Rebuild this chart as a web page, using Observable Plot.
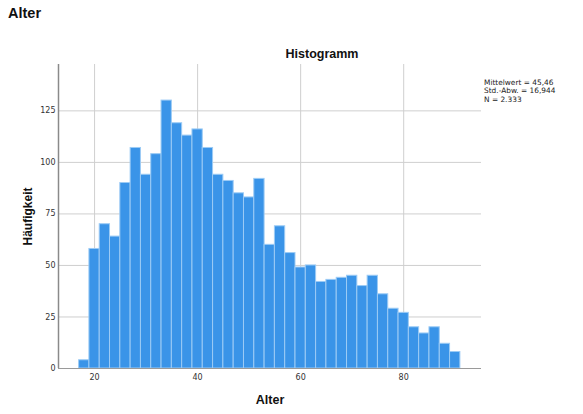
<!DOCTYPE html>
<html>
<head>
<meta charset="utf-8">
<script src="https://cdn.jsdelivr.net/npm/d3@7"></script>
<script src="https://cdn.jsdelivr.net/npm/@observablehq/plot@0.6"></script>
<style>
  html, body { margin: 0; padding: 0; background: #fff; }
  #wrap { position: relative; width: 583px; height: 414px; overflow: hidden; }
  #wrap svg { position: absolute; left: 0; top: 0; }
  .t { position: absolute; color: #111; white-space: nowrap; }
  #head { left: 8px; top: 5px; font: bold 14.5px "Liberation Sans", sans-serif; }
  #title { left: 322px; top: 47px; transform: translateX(-50%); font: bold 12.5px "Liberation Sans", sans-serif; }
  #stats { left: 484px; top: 79px; font: 7.4px/8.4px "DejaVu Sans", sans-serif; color: #222; }
</style>
</head>
<body>
<div id="wrap">
  <div class="t" id="head">Alter</div>
  <div class="t" id="title">Histogramm</div>
  <div class="t" id="stats">Mittelwert = 45,46<br>Std.-Abw. = 16,944<br>N = 2.333</div>
</div>
<script>
// Histogram bins (lower edges, width 2 years) and counts
const binStarts = [17,19,21,23,25,27,29,31,33,35,37,39,41,43,45,47,49,51,53,55,57,59,61,63,65,67,69,71,73,75,77,79,81,83,85,87,89];
const binWidth = 2;
const counts = [4,58,70,64,90,107,94,104,130,119,113,116,107,94,91,85,83,92,60,69,56,49,50,42,43,44,45,40,45,36,29,27,20,17,20,12,8];
const xTicks = [20, 40, 60, 80];
const yTicks = [0, 25, 50, 75, 100, 125];

const bins = binStarts.map((s, i) => ({x1: s, x2: s + binWidth, count: counts[i]}));

const font = "DejaVu Sans, sans-serif";
const chart = Plot.plot({
  width: 583,
  height: 414,
  marginLeft: 58,
  marginRight: 102,
  marginTop: 64,
  marginBottom: 46,
  style: {fontFamily: font, background: "transparent", overflow: "visible"},
  x: {domain: [13, 95.1]},
  y: {domain: [0, 147.5]},
  marks: [
    Plot.gridX(xTicks, {stroke: "#cfcfcf", strokeOpacity: 1, strokeWidth: 1}),
    Plot.gridY(yTicks.slice(1), {stroke: "#cfcfcf", strokeOpacity: 1, strokeWidth: 1}),
    Plot.rectY(bins, {x1: "x1", x2: "x2", y: "count", fill: "#3a94e8", stroke: "#9ccbf5", strokeWidth: 1}),
    Plot.ruleY([0], {stroke: "#9a9a9a", strokeWidth: 1.2}),
    Plot.ruleX([13], {stroke: "#8a8a8a", strokeWidth: 1.5}),
    Plot.axisX(xTicks, {tickSize: 0, tickPadding: 6, fontSize: 8, fill: "#333", label: null}),
    Plot.axisY(yTicks, {tickSize: 0, tickPadding: 3, fontSize: 8, fill: "#333", label: null}),
    Plot.axisY([], {label: "Häufigkeit", labelAnchor: "center", labelArrow: "none", labelOffset: 35, fontSize: 12, fontWeight: "bold", fill: "#111", fontFamily: "Liberation Sans, sans-serif"}),
    Plot.axisX([], {label: "Alter", labelAnchor: "center", labelArrow: "none", labelOffset: 35, fontSize: 12.5, fontWeight: "bold", fill: "#111", fontFamily: "Liberation Sans, sans-serif"})
  ]
});
document.getElementById("wrap").prepend(chart);
</script>
</body>
</html>
